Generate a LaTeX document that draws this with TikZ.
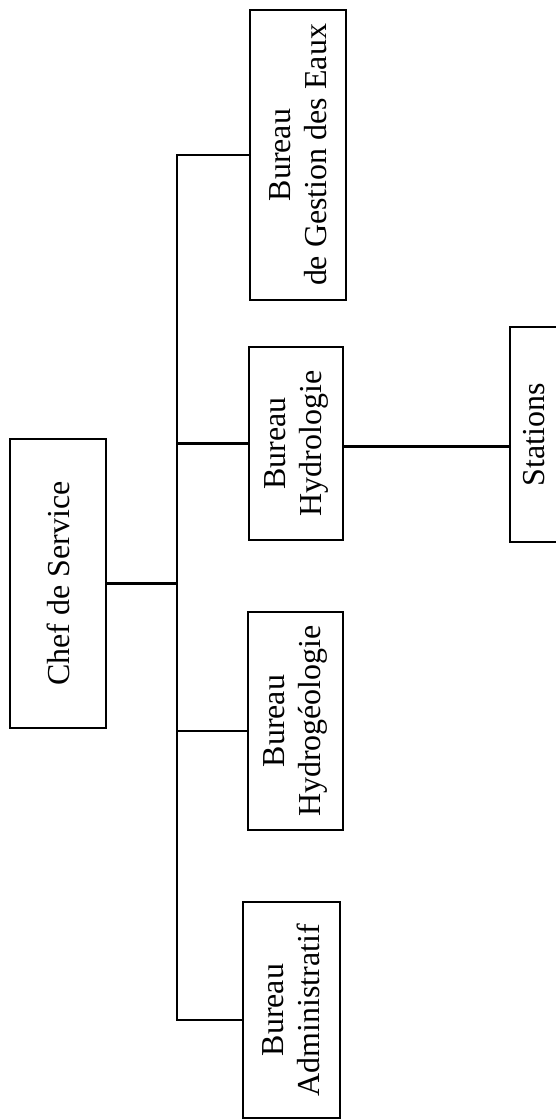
\documentclass[tikz,border=0pt]{standalone}
\usepackage{fontspec}
\setmainfont{Liberation Serif}

\begin{document}
\begin{tikzpicture}[x=0.02cm, y=-0.02cm, line width=1.2pt,
    box/.style={draw, rotate=90, inner sep=0pt, align=center,
      font=\fontsize{18.2}{20.5}\selectfont}]
  \useasboundingbox (0,0) rectangle (555,1120);
  \node[box, minimum width=5.78cm, minimum height=1.92cm] (chef) at (58,583.5) {Chef de Service};
  \node[box, minimum width=5.8cm, minimum height=1.92cm] (gestion) at (298,155) {Bureau\\de Gestion des Eaux};
  \node[box, minimum width=3.86cm, minimum height=1.88cm] (hydro) at (296,443.5) {Bureau\\Hydrologie};
  \node[box, minimum width=4.36cm, minimum height=1.9cm] (hydrogeo) at (295.5,721) {Bureau\\Hydrogéologie};
  \node[box, minimum width=4.32cm, minimum height=1.94cm] (adm) at (291.5,1010) {Bureau\\Administratif};
  \node[box, minimum width=4.3cm, minimum height=0.96cm] (stations) at (534,434.5) {Stations};
  \coordinate (bus) at (177,0);
  \draw (gestion.north) -- (gestion.north -| bus) -- ([yshift=-0.2cm]adm.north -| bus) -- ([yshift=-0.2cm]adm.north);
  \draw (hydro.north) -- (hydro.north -| bus);
  \draw ([yshift=-0.2cm]hydrogeo.north) -- ([yshift=-0.2cm]hydrogeo.north -| bus);
  \draw (chef.south) -- (chef.south -| bus);
  \draw ([yshift=-0.06cm]hydro.south) -- ([yshift=-0.06cm]hydro.south -| stations.north);
\end{tikzpicture}
\end{document}
